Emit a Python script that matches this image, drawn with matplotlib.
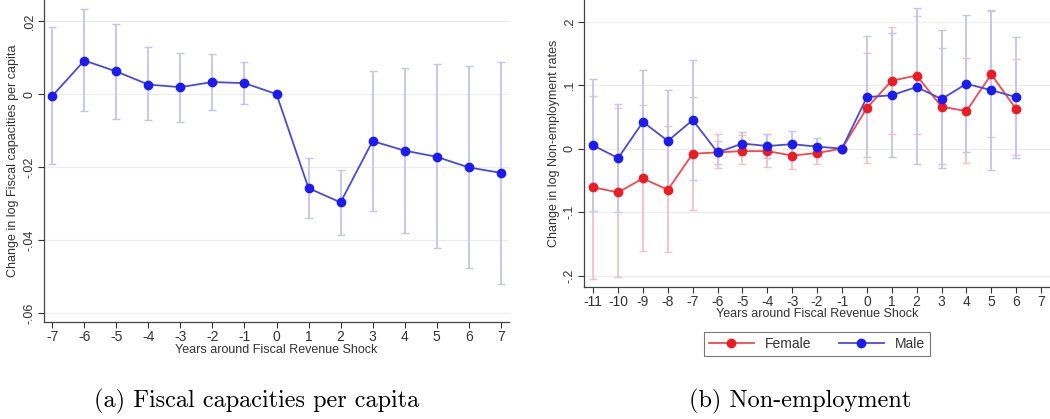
import numpy as np
import matplotlib.pyplot as plt

# panel (a): fiscal capacities per capita
years_a = [-7, -6, -5, -4, -3, -2, -1, 0, 1, 2, 3, 4, 5, 6, 7]
coef_a = [-0.0005, 0.0092, 0.0062, 0.0026, 0.0019, 0.0033, 0.0030, 0.0,
          -0.0258, -0.0297, -0.0129, -0.0155, -0.0172, -0.0201, -0.0216]
hi_a = [0.0185, 0.0233, 0.0193, 0.0128, 0.0114, 0.0110, 0.0089, 0.0,
        -0.0176, -0.0207, 0.0063, 0.0072, 0.0083, 0.0076, 0.0089]
lo_a = [-0.0193, -0.0046, -0.0068, -0.0071, -0.0077, -0.0044, -0.0027, 0.0,
        -0.0341, -0.0386, -0.0320, -0.0381, -0.0423, -0.0477, -0.0521]

# panel (b): non-employment by gender
years_b = [-11, -10, -9, -8, -7, -6, -5, -4, -3, -2, -1, 0, 1, 2, 3, 4, 5, 6]
female = [-0.061, -0.069, -0.047, -0.065, -0.008, -0.006, -0.004, -0.004, -0.011,
          -0.007, 0.0, 0.064, 0.107, 0.115, 0.066, 0.059, 0.117, 0.062]
female_hi = [0.083, 0.064, 0.068, 0.035, 0.082, 0.023, 0.022, 0.023, 0.012,
             0.008, 0.0, 0.151, 0.191, 0.209, 0.158, 0.142, 0.217, 0.141]
female_lo = [-0.205, -0.202, -0.162, -0.163, -0.097, -0.030, -0.025, -0.029, -0.032,
             -0.025, 0.0, -0.022, 0.023, 0.023, -0.024, -0.023, 0.018, -0.010]
male = [0.005, -0.015, 0.042, 0.012, 0.045, -0.006, 0.008, 0.004, 0.007,
        0.003, 0.0, 0.081, 0.084, 0.097, 0.078, 0.102, 0.092, 0.081]
male_hi = [0.110, 0.070, 0.124, 0.092, 0.140, 0.012, 0.026, 0.023, 0.028,
           0.016, 0.0, 0.178, 0.182, 0.222, 0.187, 0.210, 0.218, 0.175]
male_lo = [-0.099, -0.100, -0.041, -0.069, -0.050, -0.024, -0.010, -0.015, -0.014,
           -0.009, 0.0, -0.013, -0.014, -0.025, -0.031, -0.006, -0.034, -0.015]

BLUE = '#1c1cf0'
BLUE_LINE = '#4a4ad8'
BLUE_CI = '#c4c4ee'
RED = '#ec1c24'
RED_LINE = '#ee4a50'
RED_CI = '#f4c0c4'
TXT = '#333333'

plt.rcParams['font.family'] = ['Liberation Sans', 'DejaVu Sans']
plt.rcParams['axes.unicode_minus'] = False

W, H = 1050, 419
fig = plt.figure(figsize=(W / 100, H / 100), dpi=100)


def style(ax, yticks, ylabels):
    ax.set_yticks(yticks)
    ax.set_yticklabels(ylabels, rotation=90, va='center', fontsize=9, color=TXT)
    ax.tick_params(axis='x', labelsize=10, colors=TXT, length=4, width=0.8, pad=2)
    ax.tick_params(axis='y', length=4, width=0.8, colors=TXT, pad=2)
    for s in ['top', 'right']:
        ax.spines[s].set_visible(False)
    for s in ['left', 'bottom']:
        ax.spines[s].set_color('#444444')
        ax.spines[s].set_linewidth(0.9)
    for t in yticks:
        ax.axhline(t, color='#ececec', lw=0.8, zorder=0)


def draw_series(ax, x, y, lo, hi, mc, lc, cc):
    x = np.array(x)
    y = np.array(y)
    lo = np.array(lo)
    hi = np.array(hi)
    has_ci = hi != lo
    ax.errorbar(x[has_ci], y[has_ci], yerr=[y[has_ci] - lo[has_ci], hi[has_ci] - y[has_ci]],
                fmt='none', ecolor=cc, elinewidth=1.3, capsize=3, capthick=1.0, zorder=2)
    line, = ax.plot(x, y, color=lc, lw=1.3, marker='o', ms=6, mfc=mc, mec=mc, zorder=3)
    return line


# (a)
ax1 = fig.add_axes([44 / W, (H - 322) / H, (509 - 44) / W, 322 / H])
draw_series(ax1, years_a, coef_a, lo_a, hi_a, BLUE, BLUE_LINE, BLUE_CI)
ax1.set_xlim(-7.26, 7.26)
ax1.set_ylim(-0.0625, 0.0258)
ax1.set_xticks(years_a)
style(ax1, [-0.06, -0.04, -0.02, 0, 0.02], ['-.06', '-.04', '-.02', '0', '.02'])
ax1.set_xlabel('Years around Fiscal Revenue Shock', fontsize=9, color=TXT, labelpad=0)
ax1.set_ylabel('Change in log Fiscal capacities per capita', fontsize=9, color=TXT, labelpad=3)

# (b)
ax2 = fig.add_axes([584 / W, (H - 287) / H, (W - 584) / W, 287 / H])
lf = draw_series(ax2, years_b, female, female_lo, female_hi, RED, RED_LINE, RED_CI)
lm = draw_series(ax2, years_b, male, male_lo, male_hi, BLUE, BLUE_LINE, BLUE_CI)
ax2.set_xlim(-11.37, 7.36)
ax2.set_ylim(-0.218, 0.234)
ax2.set_xticks(list(range(-11, 8)))
style(ax2, [-0.2, -0.1, 0, 0.1, 0.2], ['-.2', '-.1', '0', '.1', '.2'])
ax2.set_xlabel('Years around Fiscal Revenue Shock', fontsize=9, color=TXT, labelpad=-1)
ax2.set_ylabel('Change in log Non-employment rates', fontsize=9, color=TXT, labelpad=3)

leg = fig.legend([lf, lm], ['Female', 'Male'], loc='center', ncol=2,
                 bbox_to_anchor=(817 / W, (H - 344) / H), fontsize=10,
                 frameon=True, fancybox=False, handlelength=3.2, columnspacing=2.0,
                 borderpad=0.35, handletextpad=0.8)
leg.get_frame().set_edgecolor('#555555')
leg.get_frame().set_linewidth(0.8)
for t in leg.get_texts():
    t.set_color(TXT)

# captions
fig.text(257 / W, (H - 401) / H, '(a) Fiscal capacities per capita', ha='center', va='center',
         fontsize=17.5, family='cmr10')
fig.text(800 / W, (H - 401) / H, '(b) Non-employment', ha='center', va='center',
         fontsize=17.5, family='cmr10')

fig.savefig('out.png', dpi=100)
